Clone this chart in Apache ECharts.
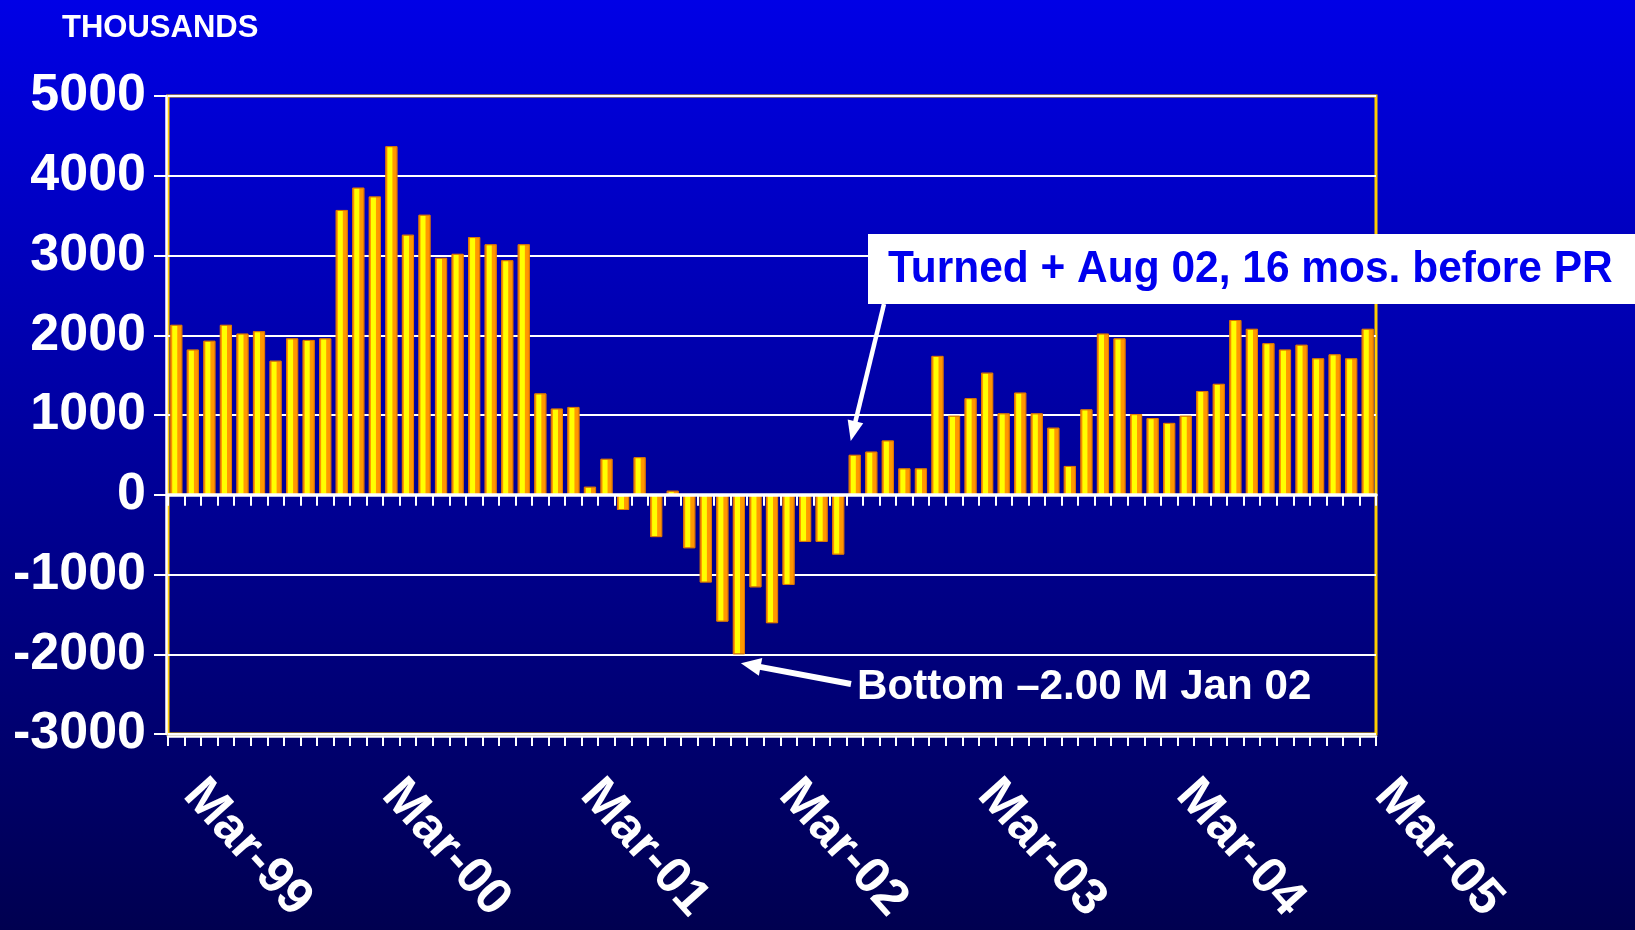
<!DOCTYPE html>
<html><head><meta charset="utf-8">
<script src="https://cdn.jsdelivr.net/npm/echarts@6/dist/echarts.min.js"></script>
<style>
html,body{margin:0;padding:0;width:1635px;height:930px;overflow:hidden;background:linear-gradient(to bottom,#0000e6 0%,#00009a 50%,#000050 100%);}
#c{width:1635px;height:930px;}
</style></head><body><div id="c"></div>
<script>
const categories = [
 'Mar-99','Apr-99','May-99','Jun-99','Jul-99','Aug-99','Sep-99','Oct-99','Nov-99','Dec-99','Jan-00','Feb-00',
 'Mar-00','Apr-00','May-00','Jun-00','Jul-00','Aug-00','Sep-00','Oct-00','Nov-00','Dec-00','Jan-01','Feb-01',
 'Mar-01','Apr-01','May-01','Jun-01','Jul-01','Aug-01','Sep-01','Oct-01','Nov-01','Dec-01','Jan-02','Feb-02',
 'Mar-02','Apr-02','May-02','Jun-02','Jul-02','Aug-02','Sep-02','Oct-02','Nov-02','Dec-02','Jan-03','Feb-03',
 'Mar-03','Apr-03','May-03','Jun-03','Jul-03','Aug-03','Sep-03','Oct-03','Nov-03','Dec-03','Jan-04','Feb-04',
 'Mar-04','Apr-04','May-04','Jun-04','Jul-04','Aug-04','Sep-04','Oct-04','Nov-04','Dec-04','Jan-05','Feb-05',
 'Mar-05'
];
const values = [
 2130, 1820, 1930, 2130, 2020, 2050, 1680, 1960, 1940, 1960,
 3570, 3850, 3740, 4370, 3260, 3510, 2970, 3020, 3230, 3140, 2940, 3140,
 1270, 1080, 1100,
 100, 450, -190, 470, -530, 50, -670, -1100, -1590, -2000, -1160, -1610, -1130, -590, -590, -750,
 500, 540, 680, 330, 330, 1740, 990, 1210, 1530, 1020, 1280, 1020, 840, 360, 1070, 2020, 1960,
 1010, 960, 900, 990, 1300, 1390, 2190, 2080, 1900, 1820, 1880, 1710, 1760, 1710, 2080
];
const xTickLabels = ['Mar-99','Mar-00','Mar-01','Mar-02','Mar-03','Mar-04','Mar-05'];
const yRange = [-3000, 5000];
const yStep = [1000];
const unitLabel = 'THOUSANDS';
const noteTurned = 'Turned + Aug 02, 16 mos. before PR';
const noteTurnedMonth = 'Aug-02';
const noteBottom = 'Bottom \u20132.00 M Jan 02';
const noteBottomMonth = 'Jan-02';

const FONT = "'Liberation Sans', Arial, sans-serif";
const chart = echarts.init(document.getElementById('c'), null, {renderer:'canvas'});

const barColor = new echarts.graphic.LinearGradient(0,0,1,0,[
  {offset:0, color:'#ff9400'},{offset:0.14, color:'#ff9a00'},
  {offset:0.2, color:'#ffff00'},{offset:0.55, color:'#ffff00'},
  {offset:0.62, color:'#ff9c00'},{offset:1, color:'#ff9000'}
]);

chart.setOption({
  backgroundColor:'transparent',
  animation:false,
  title:{text:unitLabel,left:57,top:8,textStyle:{color:'#fff',fontSize:31,fontWeight:'bold',fontFamily:FONT}},
  grid:{left:168,right:259,top:96,bottom:196,show:true,borderColor:'#ffcc00',borderWidth:3,backgroundColor:'transparent'},
  xAxis:[
    {type:'category',data:categories,z:3,
     axisLine:{onZero:true,lineStyle:{color:'#fff',width:3.5}},
     axisTick:{show:true,interval:0,length:11,lineStyle:{color:'#fff',width:2}},
     axisLabel:{show:false},splitLine:{show:false}},
    {type:'category',data:categories,position:'bottom',offset:2,
     axisLine:{onZero:false,lineStyle:{color:'#fff',width:2.5}},
     axisTick:{show:true,interval:0,length:10,lineStyle:{color:'#fff',width:2}},
     axisLabel:{show:true,interval:function(i){return xTickLabels.indexOf(categories[i])>=0;},
       rotate:-48,margin:33,padding:[0,0,0,24],color:'#fff',fontSize:51,fontWeight:'bold',fontFamily:FONT},
     splitLine:{show:false}}
  ],
  yAxis:{type:'value',min:yRange[0],max:yRange[1],interval:yStep[0],offset:2,
    axisLine:{show:true,lineStyle:{color:'#fff',width:2.5}},
    axisTick:{show:true,length:12,lineStyle:{color:'#fff',width:2}},
    axisLabel:{color:'#fff',fontSize:52,fontWeight:'bold',fontFamily:FONT,margin:20,
      formatter:function(v){return String(v);}},
    splitLine:{show:true,lineStyle:{color:'#fff',width:2}}},
  series:[{type:'bar',xAxisIndex:0,yAxisIndex:0,data:values,barWidth:12,
    itemStyle:{color:barColor,borderColor:'#e07800',borderWidth:0.8}}]
});

function arrow(tail, tip, w, headLen, headW){
  const dx=tip[0]-tail[0], dy=tip[1]-tail[1];
  const L=Math.sqrt(dx*dx+dy*dy), ux=dx/L, uy=dy/L, px=-uy, py=ux;
  const bx=tip[0]-ux*headLen, by=tip[1]-uy*headLen;
  return [
    {type:'polyline',shape:{points:[tail,[bx+ux*2,by+uy*2]]},style:{stroke:'#fff',lineWidth:w},z:10},
    {type:'polygon',shape:{points:[tip,[bx+px*headW/2,by+py*headW/2],[bx-px*headW/2,by-py*headW/2]]},style:{fill:'#fff'},z:10}
  ];
}

const iT = categories.indexOf(noteTurnedMonth);
const iB = categories.indexOf(noteBottomMonth);
const pT = chart.convertToPixel({xAxisIndex:0,yAxisIndex:0},[iT, values[iT]]);
const pB = chart.convertToPixel({xAxisIndex:0,yAxisIndex:0},[iB, values[iB]]);

const g = [
  {type:'rect',shape:{x:868,y:234,width:767,height:70},style:{fill:'#fff'},z:9},
  {type:'text',x:888,y:270,scaleX:0.965,z:11,style:{text:noteTurned,fill:'#0000ee',font:'bold 44px '+FONT,textAlign:'left',textVerticalAlign:'middle',verticalAlign:'middle'}},
  {type:'text',x:857,y:687,scaleX:0.98,z:11,style:{text:noteBottom,fill:'#fff',font:'bold 43px '+FONT,textAlign:'left',textVerticalAlign:'middle',verticalAlign:'middle'}}
].concat(arrow([884,304],[pT[0]-4,pT[1]-14],4.5,20,16))
 .concat(arrow([851,684],[pB[0]+2,pB[1]+9],6,20,18));

chart.setOption({graphic:g});
</script>
</body></html>
